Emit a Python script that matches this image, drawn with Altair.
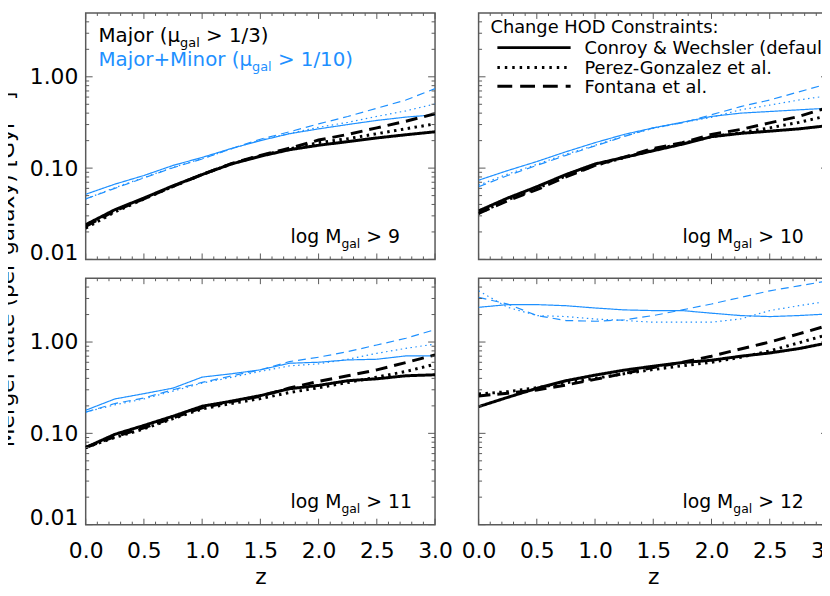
import altair as alt
import pandas as pd

# ---------------- data ----------------
z = [0.0, 0.25, 0.5, 0.75, 1.0, 1.25, 1.5, 1.75, 2.0, 2.25, 2.5, 2.75, 3.0]

# log M_gal > 9
m9_major_cw = [0.024, 0.035, 0.047, 0.064, 0.085, 0.111, 0.135, 0.159, 0.178, 0.195, 0.214, 0.232, 0.250]
m9_major_pg = [0.022, 0.033, 0.046, 0.063, 0.085, 0.111, 0.137, 0.162, 0.190, 0.210, 0.238, 0.270, 0.305]
m9_major_fo = [0.023, 0.034, 0.046, 0.063, 0.085, 0.112, 0.138, 0.165, 0.203, 0.234, 0.276, 0.326, 0.394]
m9_minor_cw = [0.0517, 0.0667, 0.083, 0.107, 0.131, 0.164, 0.200, 0.238, 0.269, 0.300, 0.333, 0.362, 0.384]
m9_minor_pg = [0.046, 0.061, 0.079, 0.102, 0.127, 0.162, 0.203, 0.240, 0.280, 0.317, 0.368, 0.424, 0.504]
m9_minor_fo = [0.046, 0.060, 0.078, 0.101, 0.126, 0.163, 0.207, 0.250, 0.305, 0.368, 0.453, 0.557, 0.743]

# log M_gal > 10
m10_major_cw = [0.034, 0.047, 0.0625, 0.085, 0.111, 0.131, 0.155, 0.183, 0.221, 0.240, 0.254, 0.269, 0.292]
m10_major_pg = [0.032, 0.045, 0.060, 0.082, 0.107, 0.130, 0.158, 0.186, 0.221, 0.244, 0.276, 0.317, 0.375]
m10_major_fo = [0.032, 0.044, 0.058, 0.080, 0.107, 0.132, 0.164, 0.190, 0.234, 0.265, 0.313, 0.368, 0.460]
m10_minor_cw = [0.0737, 0.094, 0.118, 0.151, 0.190, 0.234, 0.276, 0.318, 0.368, 0.400, 0.417, 0.435, 0.453]
m10_minor_pg = [0.065, 0.086, 0.110, 0.142, 0.178, 0.225, 0.272, 0.315, 0.360, 0.435, 0.490, 0.557, 0.620]
m10_minor_fo = [0.0625, 0.083, 0.107, 0.138, 0.175, 0.222, 0.276, 0.313, 0.384, 0.472, 0.557, 0.684, 0.840]

# log M_gal > 11
m11_major_cw = [0.070, 0.0975, 0.122, 0.154, 0.198, 0.225, 0.259, 0.308, 0.335, 0.377, 0.396, 0.427, 0.438]
m11_major_pg = [0.070, 0.090, 0.112, 0.145, 0.185, 0.212, 0.240, 0.280, 0.316, 0.360, 0.413, 0.476, 0.572]
m11_major_fo = [0.070, 0.092, 0.115, 0.148, 0.190, 0.222, 0.255, 0.314, 0.371, 0.427, 0.496, 0.596, 0.722]
m11_minor_cw = [0.179, 0.238, 0.272, 0.313, 0.413, 0.449, 0.496, 0.586, 0.601, 0.637, 0.648, 0.705, 0.705]
m11_minor_pg = [0.171, 0.205, 0.238, 0.290, 0.355, 0.410, 0.476, 0.548, 0.577, 0.648, 0.753, 0.853, 0.950]
m11_minor_fo = [0.171, 0.212, 0.244, 0.300, 0.361, 0.425, 0.496, 0.611, 0.682, 0.785, 0.928, 1.100, 1.370]

# log M_gal > 12
m12_major_cw = [0.196, 0.248, 0.311, 0.377, 0.434, 0.492, 0.544, 0.596, 0.632, 0.699, 0.759, 0.847, 0.980]
m12_major_pg = [0.270, 0.286, 0.316, 0.358, 0.400, 0.450, 0.500, 0.550, 0.600, 0.680, 0.800, 0.980, 1.210]
m12_major_fo = [0.257, 0.275, 0.298, 0.338, 0.390, 0.453, 0.526, 0.600, 0.700, 0.840, 1.000, 1.230, 1.520]
m12_minor_cw = [2.40, 2.57, 2.57, 2.50, 2.36, 2.25, 2.21, 2.21, 2.07, 1.95, 1.90, 1.95, 2.03]
m12_minor_pg = [3.64, 2.40, 1.95, 1.90, 1.79, 1.72, 1.65, 1.65, 1.65, 1.79, 2.21, 2.50, 2.79]
m12_minor_fo = [3.08, 2.61, 1.95, 1.72, 1.69, 1.75, 1.95, 2.25, 2.61, 3.08, 3.64, 4.13, 4.68]

panel_keys = ["9", "10", "11", "12"]
hod_keys = ["cw", "pg", "fo"]
panel_minor = {
    "9": [m9_minor_cw, m9_minor_pg, m9_minor_fo],
    "10": [m10_minor_cw, m10_minor_pg, m10_minor_fo],
    "11": [m11_minor_cw, m11_minor_pg, m11_minor_fo],
    "12": [m12_minor_cw, m12_minor_pg, m12_minor_fo],
}
panel_major = {
    "9": [m9_major_cw, m9_major_pg, m9_major_fo],
    "10": [m10_major_cw, m10_major_pg, m10_major_fo],
    "11": [m11_major_cw, m11_major_pg, m11_major_fo],
    "12": [m12_major_cw, m12_major_pg, m12_major_fo],
}

x_major = [0.0, 0.5, 1.0, 1.5, 2.0, 2.5, 3.0]
x_minor = [0.1, 0.2, 0.3, 0.4, 0.6, 0.7, 0.8, 0.9, 1.1, 1.2, 1.3, 1.4, 1.6, 1.7, 1.8, 1.9,
           2.1, 2.2, 2.3, 2.4, 2.6, 2.7, 2.8, 2.9]
y_major = [0.01, 0.1, 1.0]
y_minor = [0.02, 0.03, 0.04, 0.05, 0.06, 0.07, 0.08, 0.09,
           0.2, 0.3, 0.4, 0.5, 0.6, 0.7, 0.8, 0.9,
           2.0, 3.0, 4.0]

rows = []
for pk in panel_keys:
    for sample, table in (("minor", panel_minor), ("major", panel_major)):
        for hk, vals in zip(hod_keys, table[pk]):
            for zz, vv in zip(z, vals):
                rows.append({"panel": pk, "sample": sample, "hod": hk, "z": zz, "rate": vv})
df = pd.DataFrame(rows)

# ---------------- style ----------------
FONT = "DejaVu Sans"
BLUE = "#1E90FF"
FRAME = "#5a5a5a"
W, H = 353, 249

xs = alt.Scale(domain=[0, 3], nice=False, zero=False)
ys = alt.Scale(type="log", domain=[0.01, 5], nice=False)

dash_major = alt.Scale(domain=hod_keys, range=[[1, 0], [2.5, 4.5], [12, 7]])
dash_minor = alt.Scale(domain=hod_keys, range=[[1, 0], [1.5, 3.5], [8, 5]])


def txt(s, x, y, size, color="black", angle=0, align="left", baseline="alphabetic"):
    return alt.Chart(pd.DataFrame({"label": [s]})).mark_text(
        font=FONT, fontSize=size, color=color, align=align, baseline=baseline, angle=angle
    ).encode(x=alt.value(x), y=alt.value(y), text="label:N")


def sub_label(main, sub, rest, x, y, size, subsize, color, w_main, w_sub, w_space):
    return [
        txt(main, x, y, size, color),
        txt(sub, x + w_main, y + 5, subsize, color),
        txt(rest, x + w_main + w_sub + w_space, y, size, color),
    ]


def frame_ticks(x_axis, y_axis):
    out = []
    for vals, ln in ((x_major, 6), (x_minor, 3)):
        base = alt.Chart(pd.DataFrame({"t": vals})).mark_rule(color=FRAME, strokeWidth=1)
        xe = alt.X("t:Q", scale=xs, axis=x_axis)
        out.append(base.encode(x=xe, y=alt.value(H), y2=alt.value(H - ln)))
        out.append(base.encode(x=xe, y=alt.value(0), y2=alt.value(ln)))
    for vals, ln in ((y_major, 7), (y_minor, 3.5)):
        base = alt.Chart(pd.DataFrame({"t": vals})).mark_rule(color=FRAME, strokeWidth=1)
        ye = alt.Y("t:Q", scale=ys, axis=y_axis)
        out.append(base.encode(y=ye, x=alt.value(0), x2=alt.value(ln)))
        out.append(base.encode(y=ye, x=alt.value(W), x2=alt.value(W - ln)))
    return out


def log_m_label(num, x):
    # "log M_gal > num"
    return sub_label("log M", "gal", "> " + num, x, 232, 19, 12.5, "black", 51.4, 19.1, 6.0)


def panel(pk, show_x, show_y, extras):
    if show_x:
        x_axis = alt.Axis(values=x_major, format=".1f", labelFlush=False, labelPadding=16,
                          ticks=False, domain=False, grid=False,
                          title="z", titlePadding=5, titleFontSize=22, titleFontWeight="normal",
                          titleFont=FONT, titleColor="black",
                          labelFont=FONT, labelFontSize=22, labelColor="black")
    else:
        x_axis = None
    if show_y:
        y_axis = alt.Axis(values=y_major, format=".2f", labelPadding=8, ticks=False,
                          domain=False, grid=False, title=None,
                          labelBaseline={"condition": {"test": "datum.value < 0.011",
                                                       "value": "alphabetic"},
                                         "value": "middle"},
                          labelFont=FONT, labelFontSize=22, labelColor="black")
    else:
        y_axis = None
    minor = alt.Chart(df[(df.panel == pk) & (df["sample"] == "minor")]).mark_line(
        clip=True, color=BLUE, strokeWidth=1.2
    ).encode(
        x=alt.X("z:Q", scale=xs, axis=x_axis),
        y=alt.Y("rate:Q", scale=ys, axis=y_axis),
        strokeDash=alt.StrokeDash("hod:N", scale=dash_minor, legend=None),
    )
    major = alt.Chart(df[(df.panel == pk) & (df["sample"] == "major")]).mark_line(
        clip=True, color="black", strokeWidth=3
    ).encode(
        x=alt.X("z:Q", scale=xs, axis=x_axis),
        y=alt.Y("rate:Q", scale=ys, axis=y_axis),
        strokeDash=alt.StrokeDash("hod:N", scale=dash_major, legend=None),
    )
    return (
        alt.layer(minor, major, *frame_ticks(x_axis, y_axis), *extras)
        .resolve_scale(strokeDash="independent")
        .properties(width=W, height=H)
    )


# top-left annotations
tl_extra = []
tl_extra += sub_label("Major (μ", "gal", "> 1/3)", 13, 29, 20, 13, "black", 82.4, 19.8, 6.4)
tl_extra += sub_label("Major+Minor (μ", "gal", "> 1/10)", 13, 54, 20, 13, BLUE, 155.1, 19.8, 6.4)
tl_extra += log_m_label("9", 207)
tl_extra.append(txt("Merger Rate (per galaxy) [Gyr⁻¹]", -72.5, 259, 22, angle=270, align="center"))

# top-right: legend
tr_extra = [txt("Change HOD Constraints:", 12, 20, 18)]
leg = [("Conroy & Wechsler (default)", 35, [1, 0]),
       ("Perez-Gonzalez et al.", 55, [2.5, 5]),
       ("Fontana et al.", 74, [15, 8])]
for lab, yy, dash in leg:
    tr_extra.append(
        alt.Chart(pd.DataFrame({"k": [lab]})).mark_rule(color="black", strokeWidth=3, strokeDash=dash)
        .encode(x=alt.value(19), x2=alt.value(93), y=alt.value(yy))
    )
    tr_extra.append(txt(lab, 107, yy + 6.5, 18))
tr_extra += log_m_label("10", 206)

bl_extra = log_m_label("11", 207)
br_extra = log_m_label("12", 206)

tl = panel("9", False, True, tl_extra)
tr = panel("10", False, False, tr_extra)
bl = panel("11", True, True, bl_extra)
br = panel("12", True, False, br_extra)

chart = (
    alt.concat(tl, tr, bl, br, columns=2, spacing={"row": 19, "column": 44}, bounds="flush")
    .properties(padding={"left": -13.5, "top": 0, "right": -25, "bottom": 0}, background="white")
    .configure_view(stroke=FRAME, strokeWidth=1.5)
)

chart.save("out.html", embed_options={"renderer": "svg", "actions": False})
